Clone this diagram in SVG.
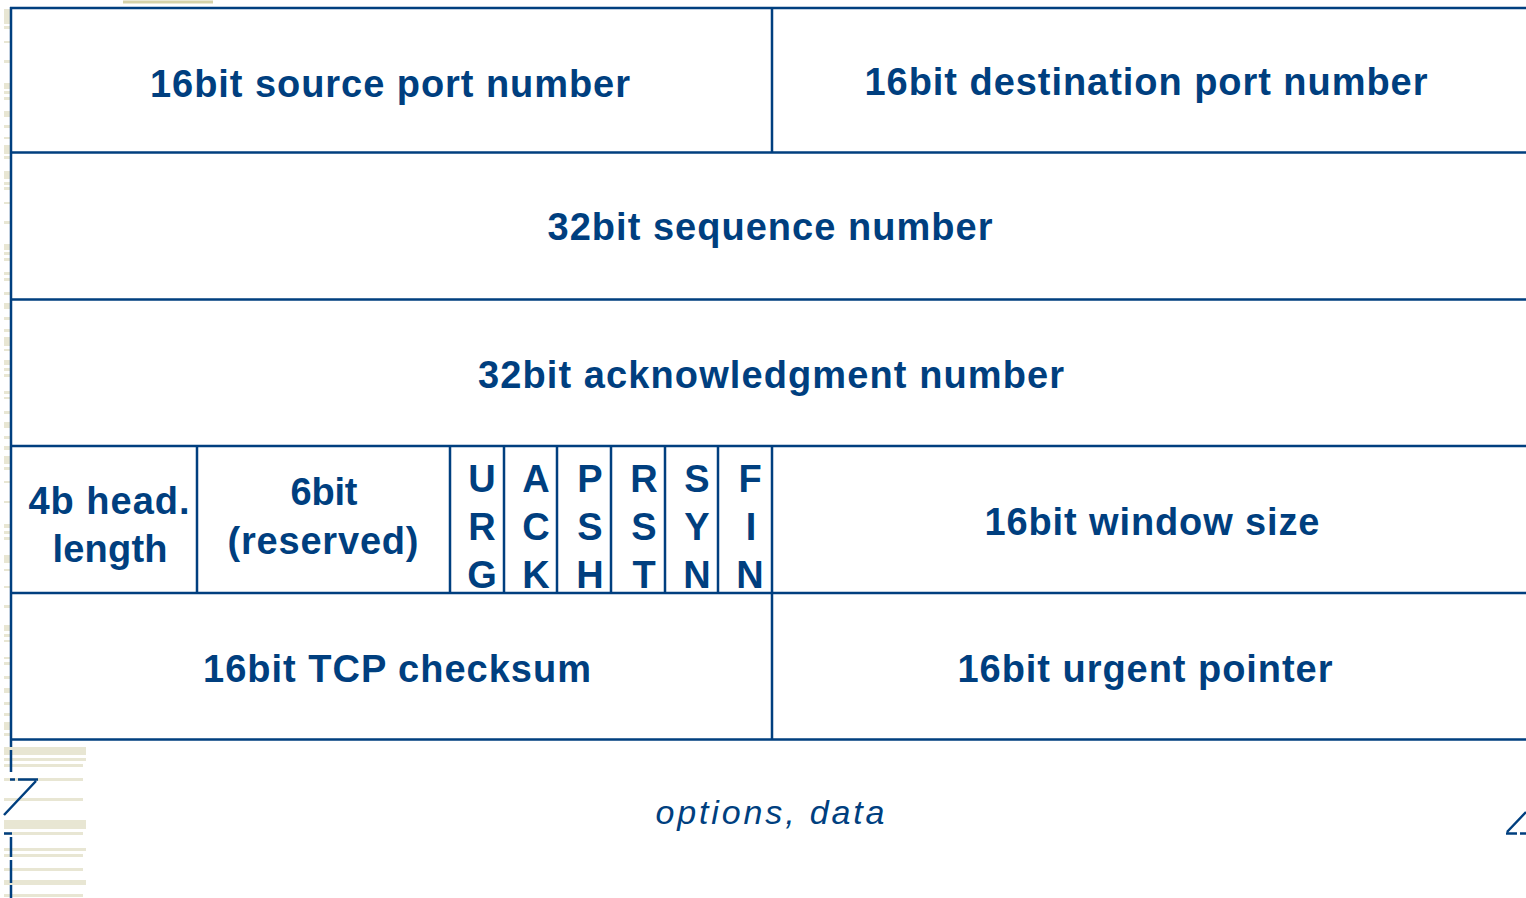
<svg xmlns="http://www.w3.org/2000/svg" width="1526" height="898" viewBox="0 0 1526 898">
<style>
.ln{stroke:#003f7f;stroke-width:2.5;fill:none}
.t{font-family:"Liberation Sans",Arial,sans-serif;font-weight:bold;font-size:38px;fill:#003f7f;text-anchor:middle}
.f{font-family:"Liberation Sans",Arial,sans-serif;font-weight:bold;font-size:38px;fill:#003f7f;text-anchor:middle}
.i{font-family:"Liberation Sans",Arial,sans-serif;font-style:italic;font-size:34px;fill:#003f7f;text-anchor:middle}
.m{fill:#e8e6d3}
.b{fill:#e8e6d3}
</style>
<rect width="1526" height="898" fill="#ffffff"/>
<g id="decor">
<rect x="123" y="0.5" width="90" height="3" fill="#d6d2a9"/>
<g class="m">
<rect x="4" y="9" width="6" height="15"/><rect x="4" y="26" width="6" height="3"/><rect x="4" y="41" width="6" height="2"/><rect x="4" y="60" width="6" height="3"/><rect x="4" y="83" width="6" height="6"/><rect x="4" y="91" width="6" height="3"/><rect x="4" y="97" width="6" height="3"/><rect x="4" y="111" width="6" height="6"/><rect x="4" y="125" width="6" height="3"/><rect x="4" y="137" width="6" height="2"/><rect x="4" y="145" width="6" height="9"/><rect x="4" y="156" width="6" height="3"/>
<rect x="4" y="171" width="6" height="8"/><rect x="4" y="182" width="6" height="3"/><rect x="4" y="187" width="6" height="3"/><rect x="4" y="202" width="6" height="2"/><rect x="4" y="221" width="6" height="3"/><rect x="4" y="244" width="6" height="6"/><rect x="4" y="252" width="6" height="3"/><rect x="4" y="258" width="6" height="3"/><rect x="4" y="272" width="6" height="3"/><rect x="4" y="278" width="6" height="3"/><rect x="4" y="292" width="6" height="3"/><rect x="4" y="303" width="6" height="6"/><rect x="4" y="317" width="6" height="3"/><rect x="4" y="329" width="6" height="3"/><rect x="4" y="337" width="6" height="9"/><rect x="4" y="349" width="6" height="2"/><rect x="4" y="360" width="6" height="5"/><rect x="4" y="368" width="6" height="3"/><rect x="4" y="374" width="6" height="3"/><rect x="4" y="391" width="6" height="3"/><rect x="4" y="397" width="6" height="2"/><rect x="4" y="411" width="6" height="3"/><rect x="4" y="422" width="6" height="6"/><rect x="4" y="436" width="6" height="3"/><rect x="4" y="446" width="6" height="4"/>
<rect x="4" y="456" width="6" height="8"/><rect x="4" y="467" width="6" height="3"/><rect x="4" y="481" width="6" height="2"/><rect x="4" y="501" width="6" height="2"/><rect x="4" y="524" width="6" height="4"/><rect x="4" y="531" width="6" height="3"/><rect x="4" y="537" width="6" height="3"/><rect x="4" y="555" width="6" height="8"/><rect x="4" y="569" width="6" height="2"/><rect x="4" y="586" width="6" height="2"/>
<rect x="4" y="605" width="6" height="3"/><rect x="4" y="625" width="6" height="6"/><rect x="4" y="634" width="6" height="3"/><rect x="4" y="640" width="6" height="2"/><rect x="4" y="657" width="6" height="2"/><rect x="4" y="662" width="6" height="3"/><rect x="4" y="676" width="6" height="3"/><rect x="4" y="688" width="6" height="5"/><rect x="4" y="702" width="6" height="3"/><rect x="4" y="713" width="6" height="3"/><rect x="4" y="722" width="6" height="8"/><rect x="4" y="733" width="6" height="3"/>
</g>
<g class="b">
<rect x="4" y="747" width="82" height="8"/><rect x="4" y="758" width="82" height="3"/><rect x="4" y="764" width="79" height="3"/><rect x="4" y="778" width="79" height="3"/><rect x="4" y="798" width="79" height="3"/><rect x="4" y="820" width="82" height="9"/><rect x="4" y="832" width="79" height="3"/><rect x="4" y="848" width="82" height="3"/><rect x="4" y="854" width="79" height="3"/><rect x="4" y="868" width="79" height="3"/><rect x="4" y="880" width="82" height="5"/><rect x="4" y="894" width="79" height="3"/>
</g>
<g class="ln">
<path d="M11,750 V772 M10,779.5 H15 M18,779.5 H38 M36,781 L4,815 M4,833.5 H12 M11,837 V857 M11,860 V883 M11,885 V898"/>
<path d="M1526,812 L1507,832 M1506,833.5 H1517 M1520,833.5 H1526"/>
</g>
</g>
<g id="connectors" class="ln">
<path d="M10,8 H1526 M10,152.5 H1526 M10,299.5 H1526 M10,446 H1526 M10,593 H1526 M10,739.5 H1526"/>
<path d="M11,7 V747"/>
<path d="M772,8 V152.5 M772,446 V740"/>
<path d="M197,446 V593 M450,446 V593 M504,446 V593 M557,446 V593 M611,446 V593 M665,446 V593 M718,446 V593"/>
</g>
<g id="src-port"><text class="t" x="390" y="97" textLength="480" lengthAdjust="spacing">16bit source port number</text></g>
<g id="dst-port"><text class="t" x="1146" y="95" textLength="563" lengthAdjust="spacing">16bit destination port number</text></g>
<g id="seq"><text class="t" x="770" y="240" textLength="445" lengthAdjust="spacing">32bit sequence number</text></g>
<g id="ack"><text class="t" x="771" y="388" textLength="586" lengthAdjust="spacing">32bit acknowledgment number</text></g>
<g id="hlen"><text class="t" x="109" y="514" textLength="161" lengthAdjust="spacing">4b head.</text><text class="t" x="110" y="562" textLength="115" lengthAdjust="spacing">length</text></g>
<g id="reserved"><text class="t" x="324" y="505" textLength="67" lengthAdjust="spacing">6bit</text><text class="t" x="323" y="554" textLength="191" lengthAdjust="spacing">(reserved)</text></g>
<g id="urg"><text class="f" x="482" y="492">U</text><text class="f" x="482" y="540">R</text><text class="f" x="482" y="588">G</text></g>
<g id="ackf"><text class="f" x="536" y="492">A</text><text class="f" x="536" y="540">C</text><text class="f" x="536" y="588">K</text></g>
<g id="psh"><text class="f" x="590" y="492">P</text><text class="f" x="590" y="540">S</text><text class="f" x="590" y="588">H</text></g>
<g id="rst"><text class="f" x="644" y="492">R</text><text class="f" x="644" y="540">S</text><text class="f" x="644" y="588">T</text></g>
<g id="syn"><text class="f" x="697" y="492">S</text><text class="f" x="697" y="540">Y</text><text class="f" x="697" y="588">N</text></g>
<g id="fin"><text class="f" x="750" y="492">F</text><text class="f" x="751" y="540">I</text><text class="f" x="750" y="588">N</text></g>
<g id="window"><text class="t" x="1152" y="535" textLength="335" lengthAdjust="spacing">16bit window size</text></g>
<g id="checksum"><text class="t" x="397" y="682" textLength="388" lengthAdjust="spacing">16bit TCP checksum</text></g>
<g id="urgptr"><text class="t" x="1145" y="682" textLength="375" lengthAdjust="spacing">16bit urgent pointer</text></g>
<g id="options"><text class="i" x="770" y="824" textLength="229" lengthAdjust="spacing">options, data</text></g>
</svg>
